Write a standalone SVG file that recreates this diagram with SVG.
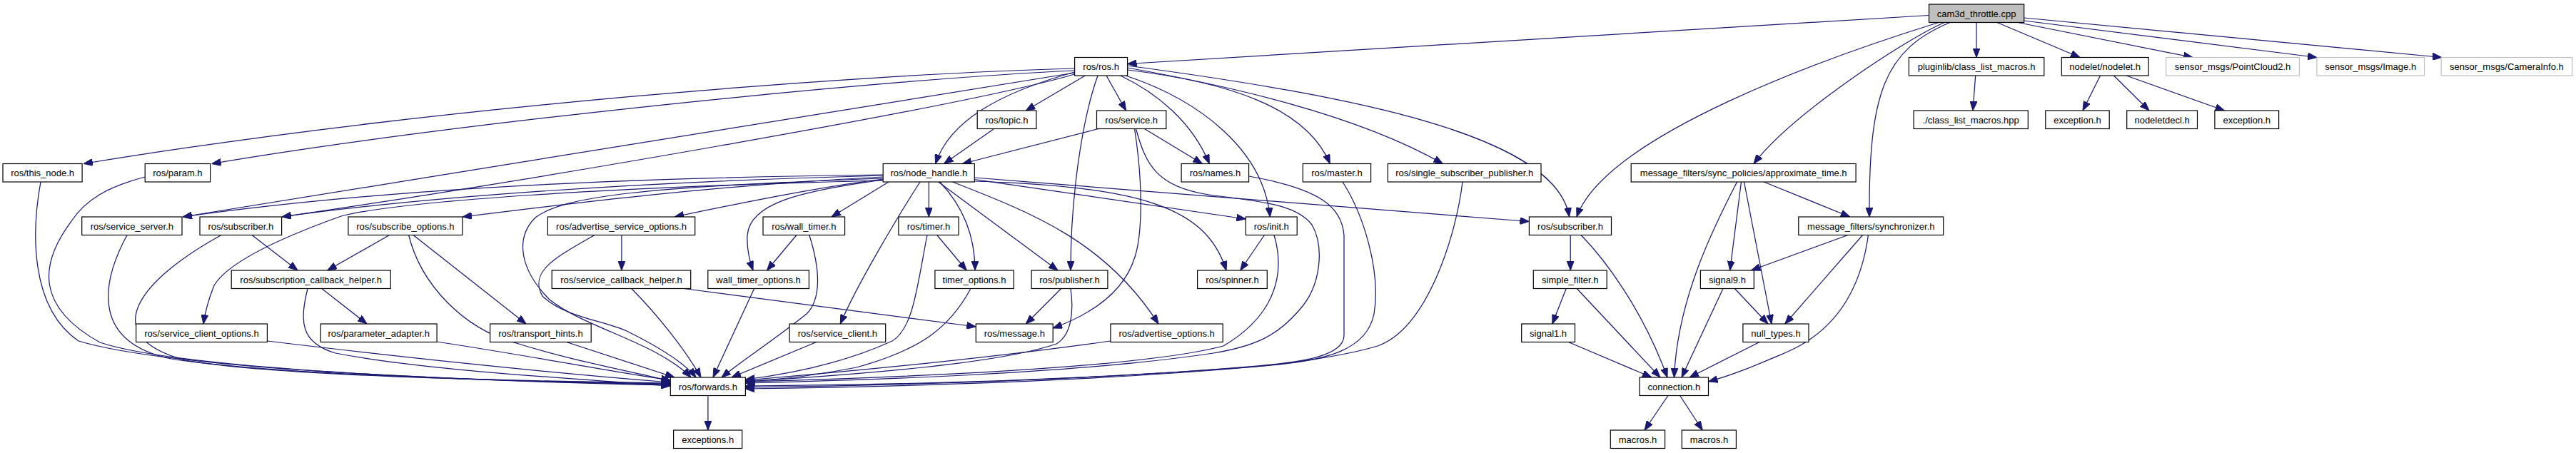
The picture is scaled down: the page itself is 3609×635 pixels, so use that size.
<svg xmlns="http://www.w3.org/2000/svg" width="3609" height="635" viewBox="0 0 3609 635">
<defs>
<marker id="a" markerUnits="userSpaceOnUse" markerWidth="13" markerHeight="10" viewBox="0 0 13 10" refX="13" refY="5" orient="auto"><path d="M0,0 L13,5 L0,10 z" fill="#191970" stroke="#191970" stroke-width="1"/></marker>
</defs>
<style>
.n rect{fill:#fff;stroke:#000;stroke-width:1.2}
.n.root rect{fill:#bfbfbf}
.n.ext rect{stroke:#bfbfbf}
.n text{font-family:"Liberation Sans",Arial,Helvetica,sans-serif;font-size:13px;text-anchor:middle;fill:#000}
#edges path{fill:none;stroke:#191970;stroke-width:1.25;marker-end:url(#a)}
</style>
<rect width="3609" height="635" fill="#fff"/>
<g id="edges">
<path d="M2702.5,21.5 L1579.6,89.5"/>
<path d="M2769,31.5 L2769,80.5"/>
<path d="M2798,31.5 L2914,80.5"/>
<path d="M2827,31.5 L3072,80.5"/>
<path d="M2835.7,29 L3246,80.5"/>
<path d="M2835.7,25 L3421,80.5"/>
<path d="M2716,31.5 C2560,80 2250,190 2209,304"/>
<path d="M2724,31.5 C2670,55 2510,160 2457,229.5"/>
<path d="M2732,31.5 C2640,70 2618,130 2619,304"/>
<path d="M2767.7,106 L2764,155"/>
<path d="M2942.5,106 L2918,155"/>
<path d="M2961.5,106 L3011,155"/>
<path d="M2979,106 L3116.5,155"/>
<path d="M1505.6,96 C1200,104 600,150 117,229.5"/>
<path d="M1505.6,99 C1250,110 650,170 296.6,229.5"/>
<path d="M1505.6,102 C1300,135 800,220 256,304"/>
<path d="M1505.6,104 C1350,150 700,260 395,304"/>
<path d="M1505.6,101 C1400,130 1330,170 1310.7,229.5"/>
<path d="M1520.3,106 L1437.3,155"/>
<path d="M1550,106 L1577.6,155"/>
<path d="M1569.7,106 C1620,130 1670,170 1694.3,229.5"/>
<path d="M1577,106 C1680,140 1770,210 1779.3,304"/>
<path d="M1538,106 C1515,170 1500,280 1500,379"/>
<path d="M1579.6,98 C1720,115 1830,150 1863.3,229.5"/>
<path d="M1579.6,95 C1720,120 1900,160 2021.4,229.5"/>
<path d="M1579.6,92 C1900,135 2180,190 2198.6,304"/>
<path d="M1392.6,180.5 L1322.6,229.5"/>
<path d="M1538.9,180.5 L1348.3,229.5"/>
<path d="M1603.3,180.5 L1684.4,229.5"/>
<path d="M1589.5,180.5 C1602,260 1600,330 1590,360 C1575,410 1530,440 1475.2,460"/>
<path d="M1591.5,180.5 C1605,230 1620,262 1694,273 C1760,282 1815,285 1838,315 C1855,345 1852,400 1820,435 C1790,470 1760,485 1700,495 C1500,525 1200,533 1044.4,537"/>
<path d="M1749.6,247 C1850,265 1880,290 1883,330 L1883,470 C1883,500 1820,508 1760,513 C1500,535 1200,540 1044.4,541"/>
<path d="M1881,255 C1910,300 1935,380 1925,440 C1915,490 1860,505 1780,512 C1500,535 1200,541 1044.4,543"/>
<path d="M2049,255 C2040,330 2000,460 1930,485 C1880,500 1800,510 1760,514 C1500,537 1200,543 1044.4,545"/>
<path d="M1785,329.5 C1800,380 1790,440 1714,485 C1600,515 1300,528 1044.4,535"/>
<path d="M1771.4,329.5 L1737.7,379"/>
<path d="M1365.3,249 L2142.4,310.5"/>
<path d="M1365.3,251.5 L1745.3,307"/>
<path d="M1365.3,254 C1600,262 1690,290 1718,379"/>
<path d="M1334.4,255 C1450,300 1550,340 1623,454"/>
<path d="M1314.7,255 L1482,379"/>
<path d="M1316.6,255 C1350,290 1366,330 1366,379"/>
<path d="M1301.3,255 L1301.3,304"/>
<path d="M1289,255 C1260,300 1200,400 1177.3,454"/>
<path d="M1237.2,252 C1120,268 1050,285 1047,330 C1046,350 1050,365 1055,379"/>
<path d="M1245,255 L1165,304"/>
<path d="M1237.2,251 C1150,262 1050,282 945,304"/>
<path d="M1237.2,248 C1000,260 800,285 648,304"/>
<path d="M1237.2,246 C900,255 600,275 395,304"/>
<path d="M1237.2,245 C800,250 500,270 256,304"/>
<path d="M1237.2,253 C850,262 560,282 478,303 C380,338 318,370 300,400 C292,420 287,440 285,454"/>
<path d="M1237.2,250 C900,262 790,275 750,305 C720,335 730,380 770,420 C820,460 920,480 968,529"/>
<path d="M57,255 C45,320 40,430 110,478 C250,520 700,535 939.3,539"/>
<path d="M203.2,248 C150,262 120,280 100,310 C55,370 50,430 140,480 C260,520 700,535 939.3,540"/>
<path d="M178,329.5 C140,400 130,480 240,503 C400,528 800,536 939.3,538"/>
<path d="M310,329.5 C200,390 130,470 260,505 C400,530 800,535 939.3,537"/>
<path d="M353,329.5 L417,379"/>
<path d="M545.6,329.5 L458.7,379"/>
<path d="M579,329.5 L737,454"/>
<path d="M572.6,329.5 C590,400 650,460 720,480 C800,505 880,520 939.3,534"/>
<path d="M431,404.5 C420,450 420,480 470,495 C600,520 800,530 939.3,541"/>
<path d="M450.8,404.5 L514,454"/>
<path d="M374.4,478 C600,505 800,525 939.3,536"/>
<path d="M612,479 C750,500 850,520 939.3,533"/>
<path d="M793.7,479.5 L945,529"/>
<path d="M870.9,329.5 L870.9,379"/>
<path d="M833,329.5 C780,360 740,380 760,415 C790,445 850,450 880,465 C930,490 960,510 975,529"/>
<path d="M884.7,404.5 C920,440 960,490 982,529"/>
<path d="M958,404.5 L1367.3,458"/>
<path d="M1116,329.5 L1074.5,379"/>
<path d="M1133.8,329.5 C1150,380 1150,420 1130,440 C1080,480 1040,505 1011,529"/>
<path d="M1056.7,404.5 L999,529"/>
<path d="M1143.7,479.5 L1025,529"/>
<path d="M1299,329.5 C1285,400 1280,460 1250,478 C1180,510 1100,525 1044.4,532"/>
<path d="M1312.7,329.5 L1354.2,379"/>
<path d="M1360,404.5 C1330,460 1290,490 1200,515 C1120,530 1080,533 1044.4,534"/>
<path d="M1486.7,404.5 L1437.3,454"/>
<path d="M1500,404.5 C1505,440 1500,470 1480,482 C1400,510 1200,525 1044.4,535"/>
<path d="M1556,478 C1400,500 1200,520 1044.4,533"/>
<path d="M991.9,554.5 L991.9,603"/>
<path d="M2200.2,329.5 L2200.2,379"/>
<path d="M2215,329.5 C2245,360 2300,430 2336,529"/>
<path d="M2194.2,404.5 L2174.8,454"/>
<path d="M2209.2,404.5 L2326,529"/>
<path d="M2197.4,479.5 L2314,529"/>
<path d="M2433.6,255 C2400,320 2350,420 2345.5,529"/>
<path d="M2439.5,255 L2423.7,379"/>
<path d="M2443.5,255 L2482,454"/>
<path d="M2471.2,255 L2591.8,304"/>
<path d="M2589,329.5 L2453.4,379"/>
<path d="M2609.6,329.5 L2500.8,454"/>
<path d="M2617.5,329.5 C2605,420 2560,470 2500,495 C2460,512 2430,525 2393.5,535"/>
<path d="M2414,404.5 L2356,529"/>
<path d="M2430.3,404.5 L2477,454"/>
<path d="M2465,479.5 L2367,529"/>
<path d="M2337,554.5 L2304,603"/>
<path d="M2353.6,554.5 L2385.2,603"/>
</g>
<g id="n_cam" class="n root"><rect x="2702.5" y="6" width="133.2" height="25.5"/><text x="2769.1" y="23.5">cam3d_throttle.cpp</text></g>
<g id="n_ros" class="n"><rect x="1505.6" y="80.5" width="74" height="25.5"/><text x="1542.6" y="98">ros/ros.h</text></g>
<g id="n_pluginlib" class="n"><rect x="2674.4" y="80.5" width="189.4" height="25.5"/><text x="2769.1" y="98">pluginlib/class_list_macros.h</text></g>
<g id="n_nodelet" class="n"><rect x="2888.3" y="80.5" width="121.8" height="25.5"/><text x="2949.2" y="98">nodelet/nodelet.h</text></g>
<g id="n_pc2" class="n ext"><rect x="3034.6" y="80.5" width="186.8" height="25.5"/><text x="3128" y="98">sensor_msgs/PointCloud2.h</text></g>
<g id="n_image" class="n ext"><rect x="3245.9" y="80.5" width="150.6" height="25.5"/><text x="3321.2" y="98">sensor_msgs/Image.h</text></g>
<g id="n_caminfo" class="n ext"><rect x="3420.2" y="80.5" width="183.4" height="25.5"/><text x="3511.9" y="98">sensor_msgs/CameraInfo.h</text></g>
<g id="n_topic" class="n"><rect x="1369.2" y="155" width="82.7" height="25.5"/><text x="1410.5" y="172.5">ros/topic.h</text></g>
<g id="n_service" class="n"><rect x="1536.5" y="155" width="97.3" height="25.5"/><text x="1585.2" y="172.5">ros/service.h</text></g>
<g id="n_clm" class="n"><rect x="2681.1" y="155" width="160.2" height="25.5"/><text x="2761.2" y="172.5">./class_list_macros.hpp</text></g>
<g id="n_exception1" class="n"><rect x="2865.8" y="155" width="89.4" height="25.5"/><text x="2910.5" y="172.5">exception.h</text></g>
<g id="n_nodeletdecl" class="n"><rect x="2979.7" y="155" width="98.8" height="25.5"/><text x="3029.1" y="172.5">nodeletdecl.h</text></g>
<g id="n_exception2" class="n"><rect x="3102.9" y="155" width="89.7" height="25.5"/><text x="3147.8" y="172.5">exception.h</text></g>
<g id="n_this_node" class="n"><rect x="4" y="229.5" width="111.1" height="25.5"/><text x="59.6" y="247">ros/this_node.h</text></g>
<g id="n_param" class="n"><rect x="203.2" y="229.5" width="91.4" height="25.5"/><text x="248.9" y="247">ros/param.h</text></g>
<g id="n_node_handle" class="n"><rect x="1237.2" y="229.5" width="128.1" height="25.5"/><text x="1301.3" y="247">ros/node_handle.h</text></g>
<g id="n_names" class="n"><rect x="1655.1" y="229.5" width="94.5" height="25.5"/><text x="1702.4" y="247">ros/names.h</text></g>
<g id="n_master" class="n"><rect x="1825.3" y="229.5" width="95.3" height="25.5"/><text x="1873" y="247">ros/master.h</text></g>
<g id="n_ssp" class="n"><rect x="1944.3" y="229.5" width="214.7" height="25.5"/><text x="2051.7" y="247">ros/single_subscriber_publisher.h</text></g>
<g id="n_approx" class="n"><rect x="2285.2" y="229.5" width="314.9" height="25.5"/><text x="2442.7" y="247">message_filters/sync_policies/approximate_time.h</text></g>
<g id="n_service_server" class="n"><rect x="114.7" y="304" width="140.3" height="25.5"/><text x="184.9" y="321.5">ros/service_server.h</text></g>
<g id="n_subscriber_l" class="n"><rect x="280" y="304" width="114.6" height="25.5"/><text x="337.3" y="321.5">ros/subscriber.h</text></g>
<g id="n_subscribe_options" class="n"><rect x="487.9" y="304" width="159.9" height="25.5"/><text x="567.9" y="321.5">ros/subscribe_options.h</text></g>
<g id="n_aso" class="n"><rect x="767.3" y="304" width="206.4" height="25.5"/><text x="870.5" y="321.5">ros/advertise_service_options.h</text></g>
<g id="n_wall_timer" class="n"><rect x="1069" y="304" width="114.6" height="25.5"/><text x="1126.3" y="321.5">ros/wall_timer.h</text></g>
<g id="n_timer" class="n"><rect x="1258.9" y="304" width="84.2" height="25.5"/><text x="1301" y="321.5">ros/timer.h</text></g>
<g id="n_init" class="n"><rect x="1745.3" y="304" width="71.9" height="25.5"/><text x="1781.3" y="321.5">ros/init.h</text></g>
<g id="n_subscriber_r" class="n"><rect x="2142.4" y="304" width="115.1" height="25.5"/><text x="2200" y="321.5">ros/subscriber.h</text></g>
<g id="n_synchronizer" class="n"><rect x="2519.8" y="304" width="202.9" height="25.5"/><text x="2621.3" y="321.5">message_filters/synchronizer.h</text></g>
<g id="n_sch" class="n"><rect x="324.2" y="379" width="223" height="25.5"/><text x="435.7" y="396.5">ros/subscription_callback_helper.h</text></g>
<g id="n_svc_cb" class="n"><rect x="773.2" y="379" width="194.5" height="25.5"/><text x="870.5" y="396.5">ros/service_callback_helper.h</text></g>
<g id="n_wto" class="n"><rect x="991.8" y="379" width="141.6" height="25.5"/><text x="1062.6" y="396.5">wall_timer_options.h</text></g>
<g id="n_timer_options" class="n"><rect x="1309.9" y="379" width="110.3" height="25.5"/><text x="1365" y="396.5">timer_options.h</text></g>
<g id="n_publisher" class="n"><rect x="1445.1" y="379" width="106.8" height="25.5"/><text x="1498.5" y="396.5">ros/publisher.h</text></g>
<g id="n_spinner" class="n"><rect x="1677.6" y="379" width="97.7" height="25.5"/><text x="1726.5" y="396.5">ros/spinner.h</text></g>
<g id="n_simple_filter" class="n"><rect x="2148.3" y="379" width="102.9" height="25.5"/><text x="2199.8" y="396.5">simple_filter.h</text></g>
<g id="n_signal9" class="n"><rect x="2382.4" y="379" width="74.9" height="25.5"/><text x="2419.9" y="396.5">signal9.h</text></g>
<g id="n_sco" class="n"><rect x="190.6" y="454" width="183.8" height="25.5"/><text x="282.5" y="471.5">ros/service_client_options.h</text></g>
<g id="n_param_adapter" class="n"><rect x="449.2" y="454" width="162.9" height="25.5"/><text x="530.7" y="471.5">ros/parameter_adapter.h</text></g>
<g id="n_transport_hints" class="n"><rect x="686.6" y="454" width="141.6" height="25.5"/><text x="757.4" y="471.5">ros/transport_hints.h</text></g>
<g id="n_service_client" class="n"><rect x="1106.1" y="454" width="134.6" height="25.5"/><text x="1173.4" y="471.5">ros/service_client.h</text></g>
<g id="n_message" class="n"><rect x="1367.3" y="454" width="107.9" height="25.5"/><text x="1421.3" y="471.5">ros/message.h</text></g>
<g id="n_advertise_options" class="n"><rect x="1555.9" y="454" width="157.3" height="25.5"/><text x="1634.6" y="471.5">ros/advertise_options.h</text></g>
<g id="n_signal1" class="n"><rect x="2131.7" y="454" width="74.8" height="25.5"/><text x="2169.1" y="471.5">signal1.h</text></g>
<g id="n_null_types" class="n"><rect x="2441.9" y="454" width="92.1" height="25.5"/><text x="2488" y="471.5">null_types.h</text></g>
<g id="n_forwards" class="n"><rect x="939.3" y="529" width="105.1" height="25.5"/><text x="991.9" y="546.5">ros/forwards.h</text></g>
<g id="n_connection" class="n"><rect x="2297" y="529" width="96.5" height="25.5"/><text x="2345.3" y="546.5">connection.h</text></g>
<g id="n_exceptions" class="n"><rect x="943.6" y="603" width="96.1" height="25.5"/><text x="991.7" y="620.5">exceptions.h</text></g>
<g id="n_macros1" class="n"><rect x="2256.3" y="603" width="76.3" height="25.5"/><text x="2294.5" y="620.5">macros.h</text></g>
<g id="n_macros2" class="n"><rect x="2356.3" y="603" width="76.1" height="25.5"/><text x="2394.4" y="620.5">macros.h</text></g>
</svg>
